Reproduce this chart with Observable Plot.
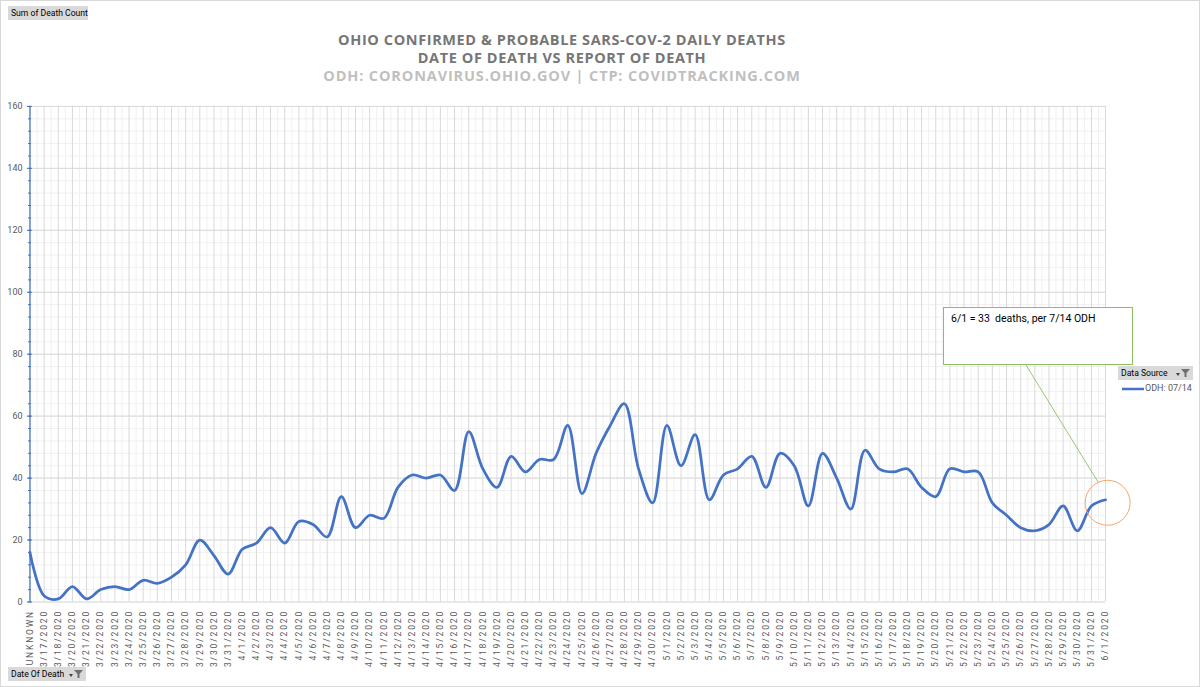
<!DOCTYPE html>
<html>
<head>
<meta charset="utf-8">
<script src="https://cdn.jsdelivr.net/npm/d3@7"></script>
<script src="https://cdn.jsdelivr.net/npm/@observablehq/plot@0.6"></script>
<style>
  html, body { margin: 0; padding: 0; background: #fff; }
  #wrap { position: relative; width: 1200px; height: 687px; overflow: hidden; box-sizing: border-box; border: 1px solid #d9d9d9; font-family: Roboto, "Liberation Sans", sans-serif; }
  #chart { position: absolute; left: -1px; top: -1px; }
  .title { position: absolute; left: 0; width: 1122px; height: 17px; line-height: 17px; text-align: center; font-family: "Open Sans", sans-serif; font-weight: bold; font-size: 14.5px; white-space: nowrap; }
  .btn { position: absolute; background: #d9d9d9; color: #000; font-size: 8.6px; line-height: 14px; height: 14px; padding: 0 3px; box-sizing: border-box; white-space: nowrap; }
  #note { position: absolute; left: 942px; top: 306px; width: 190px; height: 58px; border: 1px solid #8cbf5f; background: #fff; box-sizing: border-box; font-family: Roboto, sans-serif; font-size: 10.5px; color: #000; padding: 4px 0 0 7px; }
  #legtext { position: absolute; left: 1144px; top: 382px; font-size: 9px; color: #595959; }
  #overlay { position: absolute; left: -1px; top: -1px; pointer-events: none; }
</style>
</head>
<body>
<div id="wrap">
  <div id="chart"></div>
  <svg id="overlay" width="1200" height="687"></svg>
  <div class="btn" style="left:7px; top:5px; width:80px;">Sum of Death Count</div>
  <div class="title" style="top:30px; letter-spacing:0.6px; color:#767676;">OHIO CONFIRMED &amp; PROBABLE SARS-COV-2 DAILY DEATHS</div>
  <div class="title" style="top:48px; letter-spacing:0.6px; color:#767676;">DATE OF DEATH VS REPORT OF DEATH</div>
  <div class="title" style="top:66px; letter-spacing:0.85px; color:#bfbfbf;">ODH: CORONAVIRUS.OHIO.GOV | CTP: COVIDTRACKING.COM</div>
  <div id="note">6/1 = 33&nbsp; deaths, per 7/14 ODH</div>
  <div class="btn" style="left:1117px; top:365px; width:75px;">Data Source
    <svg width="16" height="10" style="position:absolute; right:2px; top:2px;"><path d="M1,5 L5,5 L3,8 Z" fill="#404040"/><path d="M6,1 L15,1 L11.5,5 L11.5,9 L9.5,9 L9.5,5 Z" fill="#6e6e6e"/></svg>
  </div>
  <div id="legtext">ODH: 07/14</div>
  <div class="btn" style="left:7px; top:666px; width:78px;">Date Of Death
    <svg width="16" height="10" style="position:absolute; right:2px; top:2px;"><path d="M1,5 L5,5 L3,8 Z" fill="#404040"/><path d="M6,1 L15,1 L11.5,5 L11.5,9 L9.5,9 L9.5,5 Z" fill="#6e6e6e"/></svg>
  </div>
</div>
<script>
const dates = [
  "UNKNOWN", "3/17/2020", "3/18/2020", "3/20/2020", "3/21/2020", "3/22/2020", "3/23/2020", "3/24/2020",
  "3/25/2020", "3/26/2020", "3/27/2020", "3/28/2020", "3/29/2020", "3/30/2020", "3/31/2020",
  "4/1/2020", "4/2/2020", "4/3/2020", "4/4/2020", "4/5/2020", "4/6/2020", "4/7/2020", "4/8/2020",
  "4/9/2020", "4/10/2020", "4/11/2020", "4/12/2020", "4/13/2020", "4/14/2020", "4/15/2020", "4/16/2020",
  "4/17/2020", "4/18/2020", "4/19/2020", "4/20/2020", "4/21/2020", "4/22/2020", "4/23/2020", "4/24/2020",
  "4/25/2020", "4/26/2020", "4/27/2020", "4/28/2020", "4/29/2020", "4/30/2020",
  "5/1/2020", "5/2/2020", "5/3/2020", "5/4/2020", "5/5/2020", "5/6/2020", "5/7/2020", "5/8/2020",
  "5/9/2020", "5/10/2020", "5/11/2020", "5/12/2020", "5/13/2020", "5/14/2020", "5/15/2020", "5/16/2020",
  "5/17/2020", "5/18/2020", "5/19/2020", "5/20/2020", "5/21/2020", "5/22/2020", "5/23/2020", "5/24/2020",
  "5/25/2020", "5/26/2020", "5/27/2020", "5/28/2020", "5/29/2020", "5/30/2020", "5/31/2020", "6/1/2020"
];
const deaths = [
  16, 2, 1, 5, 1, 4, 5, 4, 7, 6, 8, 12, 20, 15, 9,
  17, 19, 24, 19, 26, 25, 21, 34, 24, 28, 27, 37, 41, 40, 41, 36, 55, 43, 37, 47, 42, 46, 46, 57, 35, 48, 57, 64, 43, 32,
  57, 44, 54, 33, 41, 43, 47, 37, 48, 44, 31, 48, 40, 30, 49, 43, 42, 43, 37, 34, 43, 42, 42, 32, 28, 24, 23, 25, 31, 23, 31,
  33
];
const yMajor = [0, 20, 40, 60, 80, 100, 120, 140, 160];
const yMinor = [0, 4, 8, 12, 16, 20, 24, 28, 32, 36, 40, 44, 48, 52, 56, 60, 64, 68, 72, 76, 80, 84, 88, 92, 96, 100, 104, 108, 112, 116, 120, 124, 128, 132, 136, 140, 144, 148, 152, 156, 160];
const seriesName = "ODH: 07/14";

const rows = dates.map((d, i) => ({date: d, deaths: deaths[i], source: seriesName}));

const W = 1200, H = 687, mL = 29.5, mR = 94, mT = 106, mB = 85;
const step = (W - mL - mR) / (dates.length - 1);

const plot = Plot.plot({
  width: W, height: H,
  marginLeft: mL, marginRight: mR, marginTop: mT, marginBottom: mB,
  style: {background: "transparent", fontFamily: "Roboto, sans-serif", fontSize: "9px", color: "#595959", overflow: "visible"},
  x: {type: "point", domain: dates, padding: 0, round: false, label: null},
  y: {domain: [0, 160], label: null},
  marks: [
    Plot.ruleY(yMinor, {stroke: "#f0f0f0", strokeOpacity: 1}),
    Plot.ruleX(dates.slice(0, -1), {dx: step / 2, stroke: "#f0f0f0", strokeOpacity: 1}),
    Plot.ruleX(dates, {stroke: "#d9d9d9", strokeOpacity: 1}),
    Plot.ruleY(yMajor, {stroke: "#d9d9d9", strokeOpacity: 1}),
    Plot.ruleX([dates[0]], {stroke: "#4472C4", strokeOpacity: 1, strokeWidth: 1.2}),
    Plot.axisY({ticks: yMinor, tickSize: 3, dx: 1.5, tickFormat: () => "", stroke: "#4472C4"}),
    Plot.axisY({ticks: yMajor, tickSize: 5, dx: 2.5, tickPadding: 5, stroke: "#4472C4", fill: "#595959", fontSize: 9}),
    Plot.axisX({tickRotate: -90, tickSize: 0, tickPadding: 8, fill: "#595959", fontSize: 8.5}),
    Plot.line(rows, {x: "date", y: "deaths", curve: "catmull-rom", stroke: "#4472C4", strokeWidth: 2.75, strokeLinejoin: "round", strokeLinecap: "round"}),
    Plot.dot(rows.slice(-1), {x: "date", y: "deaths", r: 22.5, dx: 2, dy: 3, stroke: "#f4a66a", strokeWidth: 1, fill: "none"})
  ]
});
document.getElementById("chart").appendChild(plot);

// letter spacing of the rotated category labels
d3.select(plot).selectAll('g[aria-label="x-axis tick label"] text').attr("letter-spacing", "1.85px");

// annotation leader line and legend swatch
const ov = d3.select("#overlay");
ov.append("line").attr("x1", 1026).attr("y1", 365).attr("x2", 1098).attr("y2", 482)
  .attr("stroke", "#8cbf5f").attr("stroke-width", 0.9);
ov.append("line").attr("x1", 1122).attr("y1", 389).attr("x2", 1144).attr("y2", 389)
  .attr("stroke", "#4472C4").attr("stroke-width", 2.5);
</script>
</body>
</html>
